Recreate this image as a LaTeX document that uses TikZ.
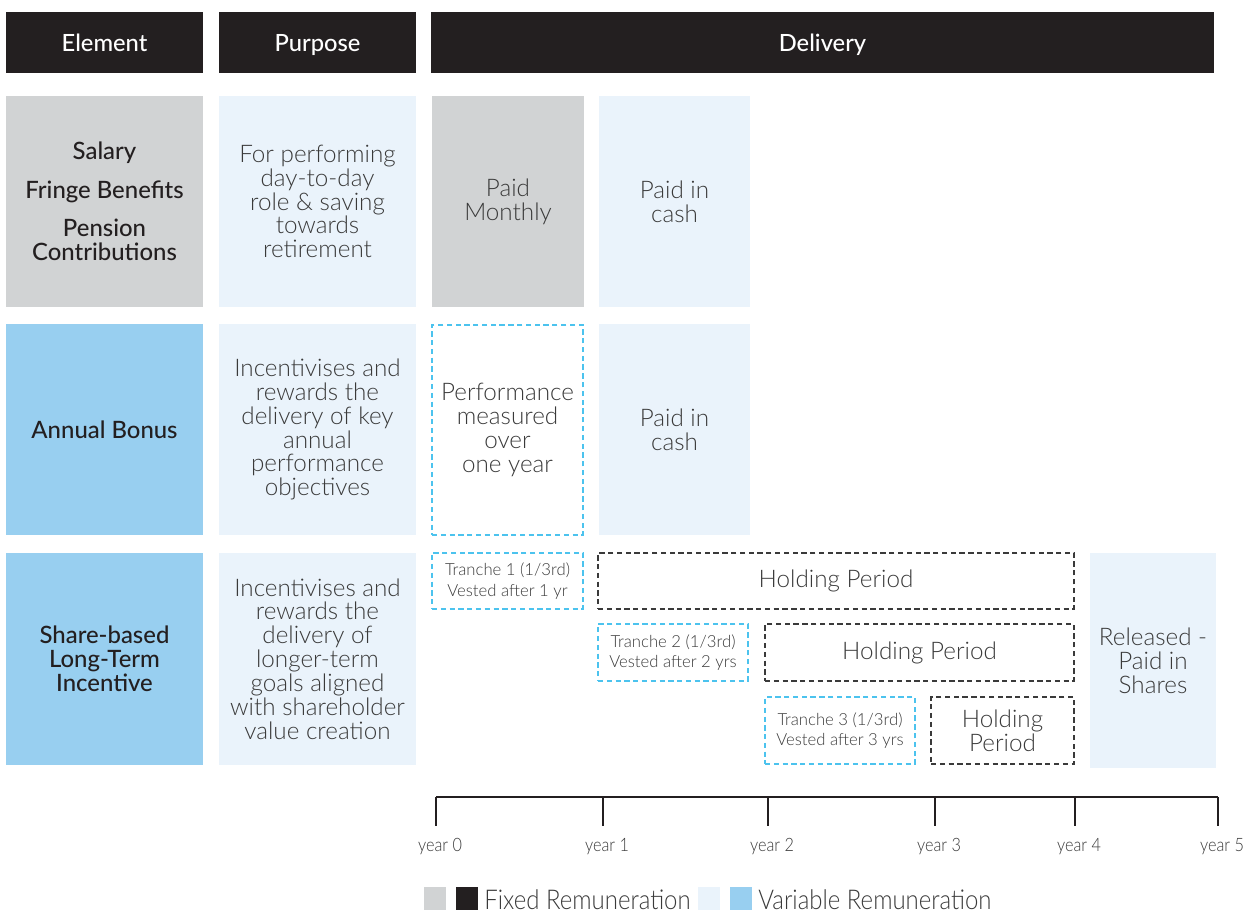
\documentclass[tikz,border=0pt]{standalone}
\usepackage{fontspec}
\setmainfont{Lato}
\newfontfamily\lightfont{Lato Light}
\newfontfamily\mediumfont{Lato Medium}
\newfontfamily\condfont{Lato Light}[FakeStretch=0.88]
\definecolor{ink}{RGB}{35,31,32}
\definecolor{fixedgrey}{RGB}{209,211,212}
\definecolor{paleblue}{RGB}{234,243,251}
\definecolor{skyblue}{RGB}{152,207,240}
\definecolor{dashblue}{RGB}{76,195,238}
\definecolor{textgrey}{RGB}{58,58,58}

\begin{document}
\begin{tikzpicture}[x=0.02cm, y=-0.02cm,
      size/.style 2 args={minimum width=#1*0.02cm, minimum height=#2*0.02cm},
      cell/.style={inner sep=0pt, outer sep=0pt, align=center, text=textgrey},
      head/.style={cell, fill=ink, text=white, text depth=0pt, font=\mediumfont\fontsize{13.5}{16}\selectfont},
      element/.style={cell, text=ink, font=\mediumfont\fontsize{13.6}{13.8}\selectfont},
      body/.style={cell, font=\lightfont\fontsize{13.8}{13.6}\selectfont},
      small/.style={cell, font=\lightfont\fontsize{9.5}{11.8}\selectfont},
      vested/.style={draw=dashblue, dash pattern=on 3pt off 2pt, line width=0.8pt},
      holding/.style={body, draw=textgrey, dash pattern=on 3pt off 2pt, line width=0.8pt},
      axis/.style={draw=ink, line width=1.4pt},
      yearlbl/.style={font=\condfont\fontsize{10.5}{12}\selectfont, text=textgrey, inner sep=0pt},
      keybox/.style={inner sep=0pt, size={22}{23}},
      keytext/.style={font=\condfont\fontsize{15.5}{17}\selectfont, text=textgrey, inner sep=0pt}]
   \useasboundingbox (0,0) rectangle (1250,912);
   % Kopfzeile
   \node[head, size={197}{61}] (hElement) at (104.5,42.5) {Element};
   \node[head, size={197}{61}] (hPurpose) at (317.5,42.5) {Purpose};
   \node[head, size={783}{61}] (hDelivery) at (822.5,42.5) {Delivery};
   % Zeile 1: fixe Verguetung
   \node[element, fill=fixedgrey, size={197}{211}] (eFixed) at (104.5,201.5)
      {Salary\\[8pt]Fringe Benefits\\[8pt]Pension\\Contributions};
   \node[body, fill=paleblue, size={197}{211}] (pFixed) at (317.5,201.5)
      {For performing\\day-to-day\\role \& saving\\towards\\retirement};
   \node[body, fill=fixedgrey, size={152}{211}] (dMonthly) at (508,201.5) {Paid\\Monthly};
   \node[body, fill=paleblue, size={151}{211}] (dCashA) at (674.5,201.5) {Paid in\\cash};
   % Zeile 2: Jahresbonus
   \node[element, fill=skyblue, size={197}{211}] (eBonus) at (104.5,429.5) {Annual Bonus};
   \node[body, fill=paleblue, size={197}{211}] (pBonus) at (317.5,429.5)
      {Incentivises and\\rewards the\\delivery of key\\annual\\performance\\objectives};
   \node[body, vested, size={151}{210}] (dMeasure) at (507.5,430)
      {Performance\\measured\\over\\one year};
   \node[body, fill=paleblue, size={151}{211}] (dCashB) at (674.5,429.5) {Paid in\\cash};
   % Zeile 3: Aktienplan
   \node[element, fill=skyblue, size={197}{212}] (eShare) at (104.5,659)
      {Share-based\\Long-Term\\Incentive};
   \node[body, fill=paleblue, size={197}{212}] (pShare) at (317.5,659)
      {Incentivises and\\rewards the\\delivery of\\longer-term\\goals aligned\\with shareholder\\value creation};
   \node[small, vested, size={151}{56}] (trancheA) at (507.5,581) {Tranche 1 (1/3rd)\\Vested after 1 yr};
   \node[holding, size={476}{56}] (holdA) at (836,581) {Holding Period};
   \node[small, vested, size={150}{57}] (trancheB) at (673,652.5) {Tranche 2 (1/3rd)\\Vested after 2 yrs};
   \node[holding, size={309}{57}] (holdB) at (919.5,652.5) {Holding Period};
   \node[small, vested, size={150}{67}] (trancheC) at (840,730.5) {Tranche 3 (1/3rd)\\Vested after 3 yrs};
   \node[holding, size={143}{67}] (holdC) at (1002.5,730.5) {Holding\\Period};
   \node[body, fill=paleblue, size={126}{215}] (released) at (1153,660.5)
      {Released -\\Paid in\\Shares};
   % Zeitachse
   \foreach \i/\x in {0/436,1/603,2/768,3/935,4/1075,5/1218}{
      \coordinate (yr\i) at (\x,797);
      \draw[axis] (yr\i) -- ++(0,29);
      \node[yearlbl] (lbl\i) at (\x+4,847) {year \i};
   }
   \draw[axis] (yr0) -- (yr5);
   % Legende
   \node[keybox, fill=fixedgrey] (keyGrey) at (435,898.5) {};
   \node[keybox, fill=ink] (keyInk) at (467,898.5) {};
   \node[keytext, anchor=base west] (keyFixed) at (484,909) {Fixed Remuneration};
   \node[keybox, fill=paleblue] (keyPale) at (709,898.5) {};
   \node[keybox, fill=skyblue] (keySky) at (741,898.5) {};
   \node[keytext, anchor=base west] (keyVariable) at (758,909) {Variable Remuneration};
\end{tikzpicture}
\end{document}
